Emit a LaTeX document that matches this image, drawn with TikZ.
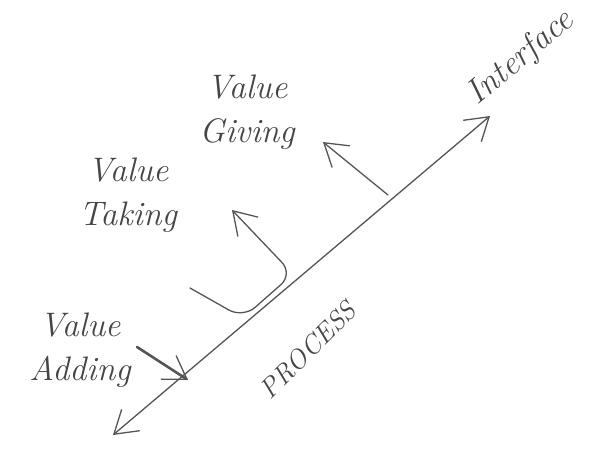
\documentclass[tikz,border=0pt]{standalone}
\usepackage{xcolor}
\usepackage{tikz}
\usetikzlibrary{
  arrows.meta,
  positioning,
  calc
}
\definecolor{pencil}{RGB}{85,85,85}
\definecolor{inkgray}{RGB}{70,70,70}
\tikzset{
  handtext/.style={
    text=inkgray,
    align=center,
    inner sep=0pt,
    font=\itshape\fontsize{17}{22}\selectfont
  },
  pencilline/.style={draw=pencil,line width=0.65pt,line cap=round,line join=round},
  barbarrow/.style={pencilline,-{Straight Barb[length=11pt,width=14pt,line width=0.65pt]}},
  bothbarb/.style={pencilline,{Straight Barb[length=11pt,width=14pt,line width=0.65pt]}-{Straight Barb[length=11pt,width=14pt,line width=0.65pt]}},
  boldarrow/.style={barbarrow,line width=1.3pt}
}

\begin{document}
\begin{tikzpicture}[x=0.5pt,y=-0.5pt]
  \useasboundingbox (0,0) rectangle (591,456);
  % labels
  \node[handtext] (giving) at (247,112) {Value\\Giving};
  \node[handtext] (taking) at (128,195) {Value\\Taking};
  \node[handtext] (adding) at (80,350) {Value\\Adding};
  \node[handtext,rotate=40] (iface) at (521,58) {Interface};
  \node[handtext,rotate=45,font=\itshape\fontsize{13.5}{16}\selectfont] (process) at (308,350) {PROCESS};
  % process line
  \coordinate (plow) at (113,435);
  \coordinate (phigh) at (490,116);
  \draw[bothbarb] (plow) -- (phigh);
  % value giving
  \coordinate (gstart) at (388,195);
  \coordinate (gtip) at (323,142);
  \draw[barbarrow] (gstart) -- (gtip);
  % value taking
  \coordinate (tstart) at (190,288);
  \coordinate (tbottom) at (243,318);
  \coordinate (tcorner) at (293,274);
  \coordinate (ttip) at (232,210);
  \draw[barbarrow,rounded corners=8pt] (tstart) -- (tbottom) -- (tcorner) -- (ttip);
  % value adding
  \coordinate (astart) at (137,347);
  \coordinate (atip) at (188,380);
  \draw[boldarrow] (astart) -- (atip);
\end{tikzpicture}
\end{document}
